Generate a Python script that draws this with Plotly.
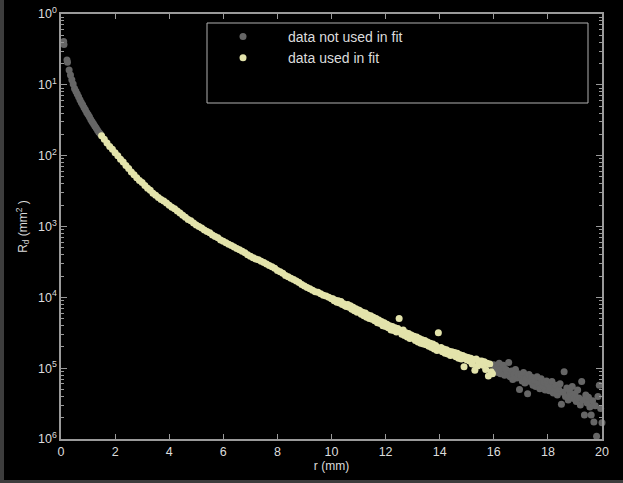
import plotly.graph_objects as go

# ---------------- data ----------------
# r in mm; values given as -log10(R_d)
r_head = [0.10, 0.11, 0.22, 0.24, 0.30, 0.35, 0.40, 0.45, 0.50, 0.55,
          0.60, 0.65, 0.70, 0.75, 0.80, 0.85, 0.90, 0.95, 1.00, 1.05,
          1.10, 1.15, 1.20, 1.25, 1.30, 1.35, 1.40, 1.45]
nlog_head = [0.39, 0.43, 0.65, 0.68, 0.79, 0.86, 0.93, 0.99, 1.05, 1.09,
             1.13, 1.17, 1.21, 1.25, 1.28, 1.32, 1.35, 1.39, 1.42, 1.45,
             1.49, 1.52, 1.55, 1.58, 1.61, 1.64, 1.67, 1.69]

r_fit = [1.5, 1.6, 1.7, 1.8, 1.9, 2.0, 2.1, 2.2, 2.3, 2.4,
         2.5, 2.6, 2.7, 2.8, 2.9, 3.0, 3.1, 3.2, 3.3, 3.4,
         3.5, 3.6, 3.7, 3.8, 3.9, 4.0, 4.1, 4.2, 4.3, 4.4,
         4.5, 4.6, 4.7, 4.8, 4.9, 5.0, 5.1, 5.2, 5.3, 5.4,
         5.5, 5.6, 5.7, 5.8, 5.9, 6.0, 6.1, 6.2, 6.3, 6.4,
         6.5, 6.6, 6.7, 6.8, 6.9, 7.0, 7.1, 7.2, 7.3, 7.4,
         7.5, 7.6, 7.7, 7.8, 7.9, 8.0, 8.1, 8.2, 8.3, 8.4,
         8.5, 8.6, 8.7, 8.8, 8.9, 9.0, 9.1, 9.2, 9.3, 9.4,
         9.5, 9.6, 9.7, 9.8, 9.9, 10.0,
         10.05, 10.10, 10.15, 10.20, 10.25, 10.30, 10.35, 10.40, 10.45, 10.50,
         10.55, 10.60, 10.65, 10.70, 10.75, 10.80, 10.85, 10.90, 10.95, 11.00,
         11.05, 11.10, 11.15, 11.20, 11.25, 11.30, 11.35, 11.40, 11.45, 11.50,
         11.55, 11.60, 11.65, 11.70, 11.75, 11.80, 11.85, 11.90, 11.95, 12.00,
         12.05, 12.10, 12.15, 12.20, 12.25, 12.30, 12.35, 12.40, 12.45, 12.50,
         12.55, 12.60, 12.65, 12.70, 12.75, 12.80, 12.85, 12.90, 12.95, 13.00,
         13.05, 13.10, 13.15, 13.20, 13.25, 13.30, 13.35, 13.40, 13.45, 13.50,
         13.55, 13.60, 13.65, 13.70, 13.75, 13.80, 13.85, 13.90, 13.95, 14.00,
         14.05, 14.10, 14.15, 14.20, 14.25, 14.30, 14.35, 14.40, 14.45, 14.50,
         14.55, 14.60, 14.65, 14.70, 14.75, 14.80, 14.85, 14.90, 14.95, 15.00,
         15.05, 15.10, 15.15, 15.20, 15.25, 15.30, 15.35, 15.40, 15.45, 15.50,
         15.55, 15.60, 15.65, 15.70, 15.75, 15.80, 15.85, 15.90, 15.95]
nlog_fit = [1.72, 1.77, 1.82, 1.87, 1.91, 1.96, 2.00, 2.05, 2.09, 2.14,
            2.18, 2.23, 2.27, 2.31, 2.35, 2.38, 2.42, 2.46, 2.49, 2.53,
            2.56, 2.59, 2.62, 2.64, 2.67, 2.70, 2.73, 2.75, 2.78, 2.81,
            2.84, 2.87, 2.90, 2.92, 2.95, 2.98, 3.00, 3.02, 3.05, 3.07,
            3.09, 3.12, 3.14, 3.16, 3.19, 3.21, 3.23, 3.25, 3.27, 3.29,
            3.31, 3.33, 3.35, 3.37, 3.40, 3.42, 3.44, 3.46, 3.47, 3.49,
            3.51, 3.53, 3.55, 3.57, 3.59, 3.62, 3.64, 3.66, 3.69, 3.71,
            3.73, 3.75, 3.77, 3.79, 3.82, 3.84, 3.86, 3.88, 3.90, 3.92,
            3.93, 3.95, 3.97, 3.98, 4.00, 4.02,
            4.02, 4.05, 4.04, 4.07, 4.05, 4.08, 4.06, 4.10, 4.09, 4.12,
            4.13, 4.10, 4.14, 4.12, 4.17, 4.14, 4.19, 4.16, 4.21, 4.18,
            4.19, 4.24, 4.21, 4.26, 4.22, 4.28, 4.25, 4.30, 4.26, 4.31,
            4.28, 4.33, 4.30, 4.36, 4.32, 4.37, 4.34, 4.40, 4.36, 4.41,
            4.38, 4.43, 4.40, 4.46, 4.41, 4.47, 4.43, 4.49, 4.44, 4.30,
            4.47, 4.52, 4.46, 4.54, 4.50, 4.56, 4.51, 4.58, 4.53, 4.57,
            4.55, 4.61, 4.56, 4.63, 4.58, 4.65, 4.60, 4.66, 4.61, 4.67,
            4.63, 4.69, 4.65, 4.71, 4.66, 4.73, 4.68, 4.75, 4.50, 4.74,
            4.71, 4.77, 4.73, 4.79, 4.74, 4.80, 4.76, 4.82, 4.77, 4.81,
            4.78, 4.84, 4.79, 4.86, 4.81, 4.87, 4.82, 4.98, 4.84, 4.88,
            4.85, 4.90, 4.86, 4.94, 4.88, 5.03, 4.87, 4.97, 4.90, 4.93,
            4.90, 4.96, 4.91, 5.02, 4.93, 5.11, 4.94, 5.05, 5.08]

r_tail = [16.00, 16.05, 16.10, 16.15, 16.20, 16.25, 16.30, 16.35, 16.40, 16.45,
          16.50, 16.55, 16.60, 16.65, 16.70, 16.75, 16.80, 16.85, 16.90, 16.95,
          17.00, 17.05, 17.10, 17.15, 17.20, 17.25, 17.30, 17.35, 17.40, 17.45,
          17.50, 17.55, 17.60, 17.65, 17.70, 17.75, 17.80, 17.85, 17.90, 17.95,
          18.00, 18.05, 18.10, 18.15, 18.20, 18.25, 18.30, 18.35, 18.40, 18.45,
          18.50, 18.55, 18.60, 18.65, 18.70, 18.75, 18.80, 18.85, 18.90, 18.95,
          19.00, 19.05, 19.10, 19.15, 19.20, 19.25, 19.30, 19.35, 19.40, 19.45,
          19.50, 19.55, 19.60, 19.65, 19.70, 19.75, 19.80, 19.85, 19.90, 19.95,
          20.00]
nlog_tail = [4.95, 5.03, 4.99, 5.06, 4.93, 5.08, 5.00, 4.96, 5.10, 5.02,
             5.07, 4.92, 5.12, 5.04, 5.16, 5.09, 5.02, 5.14, 5.08, 5.30,
             5.10, 5.18, 5.06, 5.21, 5.14, 5.36, 5.09, 5.19, 5.13, 5.24,
             5.17, 5.26, 5.12, 5.22, 5.29, 5.15, 5.25, 5.20, 5.31, 5.18,
             5.23, 5.32, 5.27, 5.19, 5.35, 5.28, 5.24, 5.38, 5.30, 5.22,
             5.51, 5.34, 5.05, 5.40, 5.28, 5.45, 5.33, 5.39, 5.26, 5.43,
             5.36, 5.47, 5.31, 5.42, 5.52, 5.19, 5.45, 5.66, 5.38, 5.49,
             5.41, 5.55, 5.66, 5.46, 5.76, 5.53, 5.96, 5.40, 5.24, 5.57,
             5.77]

y_tickvals = [1e0, 1e-1, 1e-2, 1e-3, 1e-4, 1e-5, 1e-6]
y_ticktext = ["10<sup>0</sup>", "10<sup>1</sup>", "10<sup>2</sup>", "10<sup>3</sup>",
              "10<sup>4</sup>", "10<sup>5</sup>", "10<sup>6</sup>"]

# ---------------- figure ----------------
gray = "#666666"
yellow = "#e3e3ab"
axcol = "#9a9a9a"
txtcol = "#dcdcdc"
FONT = "Liberation Sans, Arial, sans-serif"

rd_not_used = [10 ** (-v) for v in nlog_head + nlog_tail]
rd_used = [10 ** (-v) for v in nlog_fit]

fig = go.Figure()
fig.add_trace(go.Scatter(
    x=r_head + r_tail, y=rd_not_used, mode="markers", name="data not used in fit",
    marker=dict(color=gray, size=7, line=dict(width=0)), cliponaxis=False))
fig.add_trace(go.Scatter(
    x=r_fit, y=rd_used, mode="markers", name="data used in fit",
    marker=dict(color=yellow, size=7, line=dict(width=0)), cliponaxis=False))

L, R, T, B = 61, 21, 14, 44
W, H = 623, 483
pw, ph = W - L - R, H - T - B

def px_x(p):
    return (p - L) / pw

def px_y(p):
    return (H - B - p) / ph

fig.update_layout(
    width=W, height=H,
    margin=dict(l=L, r=R, t=T, b=B, pad=0, autoexpand=False),
    paper_bgcolor="black", plot_bgcolor="black",
    font=dict(family=FONT, size=13, color=txtcol),
    showlegend=True,
    legend=dict(x=px_x(198), y=px_y(21), xanchor="left", yanchor="top",
                bgcolor="rgba(0,0,0,0)", borderwidth=0, itemwidth=80,
                tracegroupgap=0, font=dict(size=14, color=txtcol)),
    xaxis=dict(range=[0, 20], dtick=2, tick0=0, showgrid=False, zeroline=False,
               automargin=False,
               showline=True, linecolor=axcol, linewidth=1.5, mirror="ticks",
               ticks="inside", ticklen=5, tickcolor=axcol, tickwidth=1,
               tickfont=dict(size=12.5, color=txtcol),
               title=dict(text="r (mm)", font=dict(size=12, color=txtcol), standoff=2)),
    yaxis=dict(type="log", range=[-6, 0], tickvals=y_tickvals, ticktext=y_ticktext,
               showgrid=False, zeroline=False, automargin=False,
               showline=True, linecolor=axcol, linewidth=1.5, mirror="ticks",
               ticks="inside", ticklen=6, tickcolor=axcol, tickwidth=1,
               tickfont=dict(size=12.5, color=txtcol),
               minor=dict(ticks="inside", ticklen=3, tickcolor=axcol, tickwidth=1,
                          dtick="D1", showgrid=False),
               title=dict(text="R<sub>d</sub> (mm<sup>2</sup> )",
                          font=dict(size=12, color=txtcol), standoff=8)),
    shapes=[
        # legend frame
        dict(type="rect", xref="paper", yref="paper",
             x0=px_x(207), x1=px_x(588), y0=px_y(103), y1=px_y(23),
             line=dict(color="#b0b0b0", width=1), fillcolor="rgba(0,0,0,0)"),
        # outer grey window edges
        dict(type="rect", xref="paper", yref="paper",
             x0=px_x(0), x1=px_x(4), y0=px_y(H), y1=px_y(0),
             line=dict(width=0), fillcolor="#3d3d3d"),
        dict(type="rect", xref="paper", yref="paper",
             x0=px_x(0), x1=px_x(W), y0=px_y(H), y1=px_y(480),
             line=dict(width=0), fillcolor="#3d3d3d"),
    ],
)

fig.write_html("out.html",
               config={"displayModeBar": False},
               post_script="document.body.style.margin='0';document.body.style.background='black';")
